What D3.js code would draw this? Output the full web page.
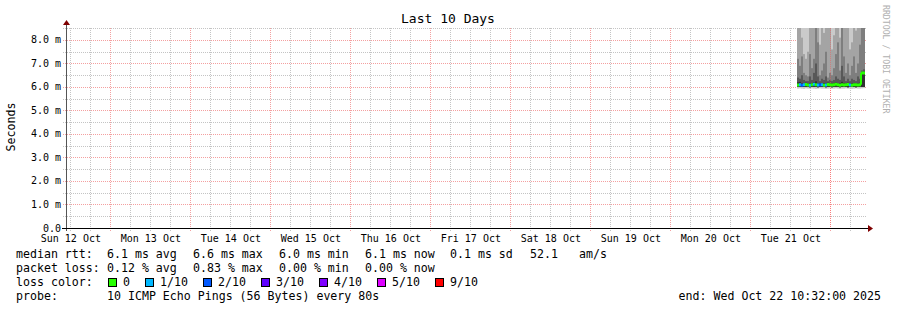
<!DOCTYPE html>
<html>
<head>
<meta charset="utf-8">
<script src="https://cdn.jsdelivr.net/npm/d3@7"></script>
<style>
  body { margin: 0; background: #fff; }
  svg text { font-family: "DejaVu Sans Mono", monospace; }
</style>
</head>
<body>
<svg id="chart" width="897" height="310"></svg>
<script>
// Smokeping style "Last 10 Days" graph

// time window
const startTime = new Date(Date.UTC(2025, 9, 12, 10, 32));
const endTime = new Date(Date.UTC(2025, 9, 22, 10, 32));
const bucketStart = new Date(Date.UTC(2025, 9, 21, 14, 8));
const bucketMinutes = 36;

// per bucket ping values (ms), pings sorted: min, p5 (lower inner), median, p6..p9, max
const minRtt = [5.93, 5.94, 5.93, 5.92, 5.94, 5.93, 5.93, 5.94, 5.93, 5.92, 5.93, 5.94, 5.93, 5.93, 5.92, 5.93, 5.94,
  5.93, 5.93, 5.94, 5.93, 5.92, 5.93, 5.93, 5.94, 5.93, 5.93, 5.92, 5.93, 5.94, 5.93, 5.93, 5.94, 5.95];
const lowRtt = [6.0, 6.01, 6.0, 6.0, 6.01, 6.0, 5.99, 6.0, 6.01, 6.0, 5.99, 6.01, 6.0, 6.0, 5.99, 6.01, 6.0,
  5.99, 6.0, 6.01, 6.0, 5.99, 6.0, 6.01, 6.0, 5.99, 6.0, 6.01, 6.0, 5.99, 6.0, 6.01, 6.0, 6.0];
const medianRtt = [6.08, 6.1, 6.07, 6.09, 6.11, 6.08, 6.07, 6.1, 6.12, 6.09, 6.08, 6.1, 6.09, 6.07, 6.08, 6.11, 6.09,
  6.08, 6.1, 6.12, 6.09, 6.07, 6.1, 6.08, 6.09, 6.11, 6.08, 6.07, 6.1, 6.09, 6.08, 6.1, 6.6, 6.6];
const p6Rtt = [6.2, 6.22, 6.15, 6.16, 6.18, 6.15, 6.15, 6.17, 6.2, 6.24, 6.16, 6.17, 6.16, 6.15, 6.16, 6.18, 6.16,
  6.15, 6.17, 6.19, 6.16, 6.15, 6.22, 6.16, 6.17, 6.18, 6.15, 6.15, 6.17, 6.16, 6.16, 6.18, 6.64, 6.65];
const p7Rtt = [6.4, 6.35, 6.5, 6.3, 6.25, 6.25, 6.45, 6.3, 6.6, 7.0, 6.45, 6.25, 6.35, 6.3, 6.45, 6.25, 6.3,
  6.25, 6.3, 6.45, 6.35, 6.3, 6.9, 6.45, 6.25, 6.35, 6.25, 6.35, 6.3, 6.25, 6.45, 6.35, 6.7, 6.75];
const p8Rtt = [7.2, 6.9, 7.3, 6.6, 6.5, 6.45, 7.4, 6.8, 7.2, 9.2, 7.9, 6.5, 6.7, 7.0, 7.5, 6.4, 6.6,
  6.5, 6.8, 7.4, 7.9, 6.7, 9.3, 7.3, 6.6, 7.0, 6.5, 6.9, 7.3, 6.6, 7.0, 7.8, 9.4, 9.4];
const p9Rtt = [9.4, 9.1, 8.1, 7.4, 7.2, 7.5, 9.3, 8.6, 9.6, 10.1, 9.2, 7.8, 9.4, 8.3, 9.1, 8.7, 9.2,
  7.6, 8.2, 9.3, 9.8, 8.1, 10.2, 9.1, 8.8, 9.5, 7.6, 7.9, 9.2, 8.4, 9.1, 9.6, 9.9, 9.9];
const maxRtt = [11.2, 10.4, 12.1, 10.8, 11.6, 12.4, 10.9, 11.3, 12.8, 13.1, 11.7, 10.6, 11.9, 12.2, 10.7, 11.4, 12.6,
  10.9, 11.5, 12.3, 13.4, 11.1, 12.7, 11.8, 10.5, 12.0, 11.3, 10.8, 12.5, 11.6, 12.9, 13.2, 11.0, 12.4];
const lossCount = [0, 1, 2, 1, 0, 0, 1, 0, 1, 0, 1, 2, 1, 0, 1, 0, 0,
  0, 0, 0, 0, 0, 0, 0, 0, 0, 1, 0, 0, 0, 0, 0, 0, 0];

// y axis
const yTicks = [0, 1, 2, 3, 4, 5, 6, 7, 8];
const yMinorTicks = [0.5, 1.5, 2.5, 3.5, 4.5, 5.5, 6.5, 7.5, 8.5];

// legend
const lossLevels = [0, 1, 2, 3, 4, 5, 9];
const lossLabels = ["0", "1/10", "2/10", "3/10", "4/10", "5/10", "9/10"];
const lossColors = ["#26ff00", "#00b8ff", "#0059ff", "#5e00ff", "#7e00ff", "#dd00ff", "#ff0000"];
const rttStats = ["6.1 ms avg", "6.6 ms max", "6.0 ms min", "6.1 ms now", "0.1 ms sd", "52.1", "am/s"];
const lossStats = ["0.12 % avg", "0.83 % max", "0.00 % min", "0.00 % now"];

// smoke shades, outer band first
const smokeShades = ["#cacaca", "#a4a4a4", "#7e7e7e", "#585858", "#323232"];

const svg = d3.select("#chart");

const plotLeft = 65, plotRight = 865, plotTop = 28, plotBottom = 228;

const x = d3.scaleUtc().domain([startTime, endTime]).range([plotLeft, plotRight]);
const y = d3.scaleLinear().domain([0, 8.51]).range([plotBottom, plotTop]);

const crisp = (v) => Math.round(v) + 0.5;

// buckets
const buckets = medianRtt.map((m, i) => {
  const t0 = new Date(bucketStart.getTime() + i * bucketMinutes * 60000);
  const t1 = new Date(t0.getTime() + bucketMinutes * 60000);
  return {
    t0, t1,
    bands: [
      [minRtt[i], maxRtt[i]],
      [lowRtt[i], p9Rtt[i]],
      [lowRtt[i], p8Rtt[i]],
      [lowRtt[i], p7Rtt[i]],
      [lowRtt[i], p6Rtt[i]],
    ],
    median: m,
    loss: lossCount[i],
  };
});

// clip for the plot
svg.append("clipPath").attr("id", "plotClip")
  .append("rect").attr("x", plotLeft).attr("y", plotTop).attr("width", plotRight - plotLeft + 1).attr("height", plotBottom - plotTop);

const minorColor = "#c4c4c4";
const majorColor = "#f4a0a0";

// grid: minor
const gridG = svg.append("g");

gridG.selectAll(".hminor")
  .data(yMinorTicks)
  .join("line")
  .attr("x1", plotLeft - 2).attr("x2", plotRight + 1)
  .attr("y1", (d) => crisp(y(d))).attr("y2", (d) => crisp(y(d)))
  .attr("stroke", minorColor)
  .attr("stroke-dasharray", "1,1");

const sixHours = d3.utcHour.every(6).range(startTime, endTime).filter((d) => d.getUTCHours() !== 0);
gridG.selectAll(".vminor")
  .data(sixHours)
  .join("line")
  .attr("x1", (d) => crisp(x(d))).attr("x2", (d) => crisp(x(d)))
  .attr("y1", plotTop).attr("y2", plotBottom + 3)
  .attr("stroke", minorColor)
  .attr("stroke-dasharray", "1,1");

// grid: major
gridG.selectAll(".hmajor")
  .data(yTicks.filter((d) => d > 0))
  .join("line")
  .attr("x1", plotLeft - 2).attr("x2", plotRight + 1)
  .attr("y1", (d) => crisp(y(d))).attr("y2", (d) => crisp(y(d)))
  .attr("stroke", majorColor)
  .attr("stroke-dasharray", "1,1");

const midnights = d3.utcDay.range(startTime, endTime);
gridG.selectAll(".vmajor")
  .data(midnights)
  .join("line")
  .attr("x1", (d) => crisp(x(d))).attr("x2", (d) => crisp(x(d)))
  .attr("y1", plotTop).attr("y2", plotBottom + 3)
  .attr("stroke", majorColor)
  .attr("stroke-dasharray", "1,1");

// smoke
const smokeG = svg.append("g").attr("clip-path", "url(#plotClip)");
smokeShades.forEach((shade, b) => {
  smokeG.append("g")
    .selectAll("rect")
    .data(buckets)
    .join("rect")
    .attr("x", (d) => x(d.t0))
    .attr("width", (d) => x(d.t1) - x(d.t0))
    .attr("y", (d) => y(d.bands[b][1]))
    .attr("height", (d) => y(d.bands[b][0]) - y(d.bands[b][1]))
    .attr("fill", shade);
});

// the major grid shows through the smoke
svg.append("g")
  .selectAll("line")
  .data(midnights.filter((d) => x(d) >= x(bucketStart)))
  .join("line")
  .attr("x1", (d) => crisp(x(d))).attr("x2", (d) => crisp(x(d)))
  .attr("y1", plotTop).attr("y2", plotBottom)
  .attr("stroke", "rgba(255,80,80,0.45)")
  .attr("stroke-dasharray", "1,1");

// median line, coloured by loss
const lossColor = d3.scaleOrdinal().domain(lossLevels).range(lossColors);
const medianG = svg.append("g").attr("clip-path", "url(#plotClip)");
buckets.forEach((d, i) => {
  medianG.append("line")
    .attr("x1", x(d.t0)).attr("x2", x(d.t1))
    .attr("y1", y(d.median)).attr("y2", y(d.median))
    .attr("stroke", lossColor(d.loss))
    .attr("stroke-width", 3);
  if (i > 0) {
    const prev = buckets[i - 1];
    medianG.append("line")
      .attr("x1", x(d.t0)).attr("x2", x(d.t0))
      .attr("y1", y(prev.median)).attr("y2", y(d.median))
      .attr("stroke", lossColor(d.loss))
      .attr("stroke-width", 2);
  }
});

// axes
svg.append("line")
  .attr("x1", plotLeft + 1.5).attr("x2", plotLeft + 1.5)
  .attr("y1", plotBottom + 3).attr("y2", plotTop - 4)
  .attr("stroke", "#555").attr("stroke-width", 1);
svg.append("path")
  .attr("d", `M${plotLeft - 2},${plotTop - 3} L${plotLeft + 5},${plotTop - 3} L${plotLeft + 1.5},${plotTop - 8} Z`)
  .attr("fill", "#7f0000");

svg.append("line")
  .attr("x1", plotLeft - 3).attr("x2", plotRight + 4)
  .attr("y1", plotBottom + 0.5).attr("y2", plotBottom + 0.5)
  .attr("stroke", "#000").attr("stroke-width", 1.2);
svg.append("path")
  .attr("d", `M${plotRight + 3},${plotBottom - 3} L${plotRight + 3},${plotBottom + 4} L${plotRight + 8},${plotBottom + 0.5} Z`)
  .attr("fill", "#7f0000");

// y tick labels
svg.append("g")
  .selectAll("text")
  .data(yTicks)
  .join("text")
  .attr("x", 61)
  .attr("y", (d) => y(d) + 3.5)
  .attr("text-anchor", "end")
  .attr("font-size", "10px")
  .attr("fill", "#000")
  .text((d) => (d === 0 ? "0.0" : d.toFixed(1) + " m"));

// x tick labels at noon
const fmt = d3.utcFormat("%a %d %b");
const noons = midnights.map((d) => d3.utcHour.offset(d, 12)).filter((d) => d > startTime && d < endTime);
noons.unshift(new Date(Date.UTC(2025, 9, 12, 12)));
svg.append("g")
  .selectAll("text")
  .data(noons)
  .join("text")
  .attr("x", (d) => x(d) + 1)
  .attr("y", 242)
  .attr("text-anchor", "middle")
  .attr("font-size", "10px")
  .attr("fill", "#000")
  .text((d) => fmt(d));

// title
svg.append("text")
  .attr("x", 448).attr("y", 23)
  .attr("text-anchor", "middle")
  .attr("font-size", "13px")
  .text("Last 10 Days");

// y axis title
svg.append("text")
  .attr("transform", "translate(15,127) rotate(-90)")
  .attr("text-anchor", "middle")
  .attr("font-size", "11.6px")
  .text("Seconds");

// watermark
svg.append("text")
  .attr("transform", "translate(883,5) rotate(90)")
  .attr("font-size", "8.2px")
  .attr("fill", "#b0b0b0")
  .text("RRDTOOL / TOBI OETIKER");

// legend
const legend = svg.append("g").attr("font-size", "11.6px").attr("fill", "#000");
const statX = [107, 193, 279, 365, 450, 530, 579];

legend.append("text").attr("x", 16).attr("y", 258).text("median rtt:");
rttStats.forEach((s, i) => {
  legend.append("text").attr("x", statX[i]).attr("y", 258).text(s);
});

legend.append("text").attr("x", 16).attr("y", 272).text("packet loss:");
lossStats.forEach((s, i) => {
  legend.append("text").attr("x", statX[i]).attr("y", 272).text(s);
});

legend.append("text").attr("x", 16).attr("y", 286).text("loss color:");
const swatchX = [108, 145, 203, 261, 319, 377, 435];
lossLabels.forEach((lab, i) => {
  legend.append("rect")
    .attr("x", swatchX[i] + 0.5).attr("y", 278.5)
    .attr("width", 8).attr("height", 8)
    .attr("fill", lossColors[i])
    .attr("stroke", "#000").attr("stroke-width", 1);
  legend.append("text").attr("x", swatchX[i] + 15).attr("y", 286).text(lab);
});

legend.append("text").attr("x", 16).attr("y", 300).text("probe:");
legend.append("text").attr("x", 107).attr("y", 300).text("10 ICMP Echo Pings (56 Bytes) every 80s");
legend.append("text").attr("x", 881).attr("y", 300).attr("text-anchor", "end")
  .text("end: Wed Oct 22 10:32:00 2025");
</script>
</body>
</html>
